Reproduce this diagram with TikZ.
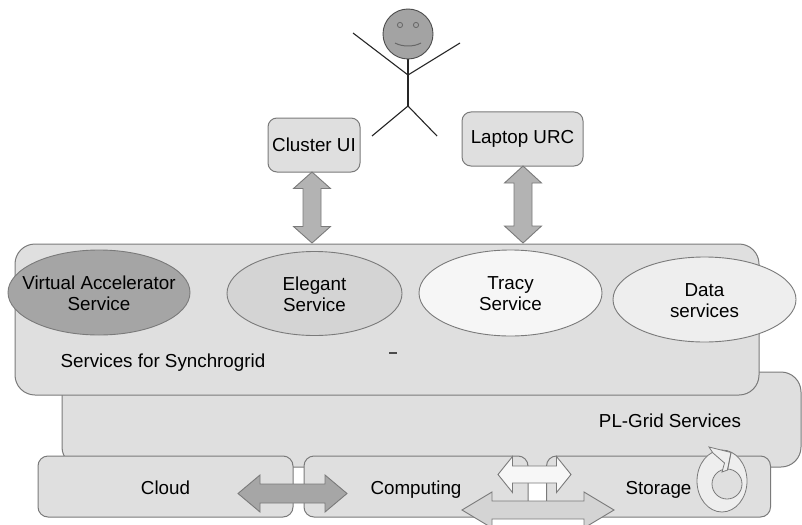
\documentclass[tikz,border=0pt]{standalone}
\usepackage{fontspec}
\setmainfont{Liberation Sans}
\usetikzlibrary{shapes.geometric}

\definecolor{edge}{HTML}{7A7A7A}
\definecolor{boxfill}{HTML}{DFDFDF}
\definecolor{vafill}{HTML}{A5A5A5}
\definecolor{elfill}{HTML}{D4D4D4}
\definecolor{trfill}{HTML}{F6F6F6}
\definecolor{dafill}{HTML}{EEEEEE}
\definecolor{uparrow}{HTML}{B3B3B3}
\definecolor{darkarrow}{HTML}{A6A6A6}
\definecolor{whitearrow}{HTML}{F7F7F7}
\definecolor{lightarrow}{HTML}{D4D4D4}
\definecolor{facefill}{HTML}{A3A3A3}

\tikzset{
  lbl/.style={font=\fontsize{18.8}{21}\selectfont, align=center, text=black},
  panel/.style={draw=edge, line width=1pt, fill=boxfill, rounded corners=#1, inner sep=0pt},
  panel/.default=10pt,
  service/.style={ellipse, draw=edge, line width=0.9pt, inner sep=0pt},
  limb/.style={draw=black!85, line width=1.1pt},
  % double block arrow: half length / half shaft / half head / head length
  pics/dblarrow/.style args={#1/#2/#3/#4}{code={
    \draw[draw=edge, line width=0.9pt, line join=miter, pic actions]
      (-#1,0) -- ({-#1+#4},-#3) -- ({-#1+#4},-#2) -- ({#1-#4},-#2) -- ({#1-#4},-#3)
      -- (#1,0) -- ({#1-#4},#3) -- ({#1-#4},#2) -- ({-#1+#4},#2) -- ({-#1+#4},#3) -- cycle;
  }},
}

\begin{document}
\begin{tikzpicture}[x=1pt,y=-1pt]
\clip (0,0) rectangle (802,524);
\fill[white] (0,0) rectangle (802,524);

% ---- person ----
\coordinate (neck) at (408,59);
\coordinate (shoulder) at (408,75);
\coordinate (hip) at (408,106);
\coordinate (lhand) at (353,33);
\coordinate (rhand) at (460,43);
\coordinate (lfoot) at (372,136);
\coordinate (rfoot) at (437,136);
\draw[limb] (lhand) -- (shoulder) -- (rhand);
\draw[limb] (neck) -- (hip);
\draw[limb] (lfoot) -- (hip) -- (rfoot);
\node[circle, draw=black!70, fill=facefill, line width=0.9pt, minimum size=50pt, inner sep=0pt] (head) at (408,34) {};
\draw[black!60, line width=0.8pt] (400,25) circle (2.6pt) (416,25) circle (2.6pt);
\draw[black!60, line width=1pt] (395,43) .. controls (402,47) and (414,47) .. (421,43);

% ---- client boxes ----
\node[panel=9pt, minimum width=92pt, minimum height=54pt] (cluster) at (314,145) {};
\node[lbl] at (cluster.center) {Cluster UI};
\node[panel=9pt, minimum width=121pt, minimum height=54pt] (laptop) at (522.5,139) {};
\node[lbl] at (laptop.center) {Laptop URC};

% ---- PL-Grid layer ----
\node[panel=20pt, minimum width=739pt, minimum height=95pt] (plgrid) at (431.5,419.5) {};
\node[lbl, anchor=center] (plgridlbl) at (670,421) {PL-Grid Services};

% ---- Synchrogrid layer ----
\node[panel=20pt, minimum width=744pt, minimum height=151pt] (syn) at (387,319.5) {};
\node[lbl, anchor=west] (synlbl) at (57,363) {Services for Synchrogrid};
\draw[black!70, line width=1.4pt] (389,353) -- (397,353);

% ---- access arrows ----
\pic[fill=uparrow, rotate=90] at (312,207.5) {dblarrow=35.5/9/18.5/16.5};
\pic[fill=uparrow, rotate=90] at (523,204.5) {dblarrow=38.5/9/18.5/17};

% ---- services ----
\node[service, fill=vafill, minimum width=182pt, minimum height=85pt] (va) at (99,292.5) {};
\node[lbl] at ([yshift=-1pt]va.center) {Virtual Accelerator\\Service};
\node[service, fill=elfill, minimum width=175pt, minimum height=84pt] (elegant) at (314.5,293.5) {};
\node[lbl] at ([yshift=-1pt]elegant.center) {Elegant\\Service};
\node[service, fill=trfill, minimum width=183pt, minimum height=86pt] (tracy) at (510.5,293) {};
\node[lbl] at ([yshift=-1pt]tracy.center) {Tracy\\Service};
\node[service, fill=dafill, minimum width=183pt, minimum height=85pt] (data) at (704.5,299.5) {};
\node[lbl] at ([yshift=-1pt]data.center) {Data\\services};

% ---- resources ----
\node[panel=10pt, minimum width=255pt, minimum height=61pt] (cloud) at (165.5,486.5) {};
\node[lbl, anchor=base] at (cloud.center |- 0,494) {Cloud};
\node[panel=10pt, minimum width=224pt, minimum height=61pt] (computing) at (416,486.5) {};
\node[lbl, anchor=base] at (computing.center |- 0,494) {Computing};
\node[panel=10pt, minimum width=224pt, minimum height=61pt] (storage) at (658.5,486.5) {};
\node[lbl, anchor=base] at (storage.center |- 0,494) {Storage};

% ---- resource links ----
\pic[fill=darkarrow] at (292.5,493.5) {dblarrow=54.5/9.5/18.5/22};
\pic[fill=whitearrow] at (534.5,474.5) {dblarrow=36.5/8.5/18/14.5};
\pic[fill=lightarrow] at (538,510) {dblarrow=76/9/18/30};

% ---- refresh symbol in storage ----
\fill[dafill, even odd rule] (722,481) ellipse [x radius=25, y radius=31]
                             (727,484) ellipse [x radius=15, y radius=15];
\draw[edge, line width=0.8pt] (722,481) ellipse [x radius=25, y radius=31];
\draw[edge, line width=0.8pt] (727,484) ellipse [x radius=15, y radius=15];
\filldraw[fill=dafill, draw=edge, line width=0.8pt, line join=miter]
  (709,447) -- (731,452.5) -- (727.5,470) -- (722,472) -- (724.5,463) -- (713,453) -- cycle;
\draw[edge, line width=0.8pt] (731,452.5) -- (727.5,470);
\end{tikzpicture}
\end{document}
